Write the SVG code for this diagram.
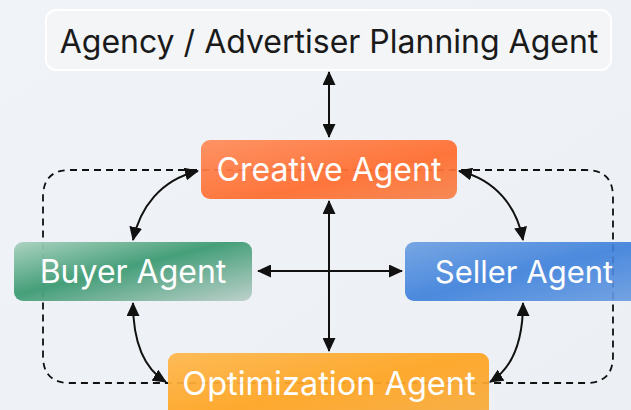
<svg xmlns="http://www.w3.org/2000/svg" width="631" height="410" viewBox="0 0 631 410">
<defs>
<linearGradient id="bg" x1="0" y1="0" x2="1" y2="1"><stop offset="0" stop-color="#f0f4f8"/><stop offset="1" stop-color="#eceff3"/></linearGradient>
<linearGradient id="gCre" x1="0" y1="0" x2="1" y2="1"><stop offset="0" stop-color="#ff8d5c"/><stop offset="0.6" stop-color="#ff6e30"/><stop offset="1" stop-color="#f7844d"/></linearGradient>
<linearGradient id="gBuy" x1="0" y1="0" x2="1" y2="1"><stop offset="0" stop-color="#a9d2bf"/><stop offset="0.45" stop-color="#3f9c75"/><stop offset="1" stop-color="#bcd0ca"/></linearGradient>
<linearGradient id="gSel" x1="0" y1="0" x2="1" y2="1"><stop offset="0" stop-color="#6b9fe2"/><stop offset="0.5" stop-color="#3b7fdb"/><stop offset="1" stop-color="#6a9de2"/></linearGradient>
<linearGradient id="gOpt" x1="0" y1="0" x2="1" y2="1"><stop offset="0" stop-color="#ffb84d"/><stop offset="0.5" stop-color="#ffa523"/><stop offset="1" stop-color="#f6ad43"/></linearGradient>
<marker id="ah" viewBox="0 0 14 13" refX="13" refY="6.5" markerWidth="14" markerHeight="13" markerUnits="userSpaceOnUse" orient="auto-start-reverse"><path d="M0,0 L14,6.5 L0,13 Z" fill="#111"/></marker>
</defs>
<style>
.lbl{font-family:Inter,"Noto Sans","DejaVu Sans",sans-serif;text-anchor:middle}
.w{fill:#fff}
.ln{fill:none;stroke:#111;stroke-width:2}
.dash{fill:none;stroke:#111;stroke-width:1.8;stroke-dasharray:7 5}
</style>
<rect width="631" height="410" fill="url(#bg)"/>
<g id="connectors">
<path class="dash" d="M329 170 H70 Q43 170 43 197 V356 Q43 383 70 383 H329"/>
<path class="dash" d="M329 170 H586 Q613 170 613 197 V356 Q613 383 586 383 H329"/>
</g>
<g id="planning"><rect x="46" y="10" width="565" height="60" rx="10" fill="#f3f5f7" stroke="#ffffff" stroke-width="2"/><text class="lbl" x="329" y="53" font-size="32" fill="#1a1a1a">Agency / Advertiser Planning Agent</text></g>
<g id="creative" opacity="0.94"><rect x="201" y="140" width="256" height="59" rx="9" fill="url(#gCre)"/><text class="lbl w" x="329" y="181" font-size="32">Creative Agent</text></g>
<g id="buyer" opacity="0.96"><rect x="14" y="242" width="238" height="59" rx="9" fill="url(#gBuy)"/><text class="lbl w" x="133" y="283" font-size="32">Buyer Agent</text></g>
<g id="seller" opacity="0.9"><rect x="405" y="242" width="240" height="59" rx="9" fill="url(#gSel)"/><text class="lbl w" x="524" y="283" font-size="31">Seller Agent</text></g>
<g id="optimization" opacity="0.94"><rect x="168" y="353" width="321" height="70" rx="9" fill="url(#gOpt)"/><text class="lbl w" x="329" y="395" font-size="32.5">Optimization Agent</text></g>
<g id="arrows">
<path class="ln" d="M329 72 V137" marker-start="url(#ah)" marker-end="url(#ah)"/>
<path class="ln" d="M329 201 V351" marker-start="url(#ah)" marker-end="url(#ah)"/>
<path class="ln" d="M258 271 H402" marker-start="url(#ah)" marker-end="url(#ah)"/>
<path class="ln" d="M198 171 C160 180 140 208 133 240" marker-start="url(#ah)" marker-end="url(#ah)"/>
<path class="ln" d="M459 171 C497 180 517 208 523 240" marker-start="url(#ah)" marker-end="url(#ah)"/>
<path class="ln" d="M133 303 C133 340 143 368 166 382" marker-start="url(#ah)" marker-end="url(#ah)"/>
<path class="ln" d="M523 303 C523 340 513 368 490 382" marker-start="url(#ah)" marker-end="url(#ah)"/>
</g>
</svg>
